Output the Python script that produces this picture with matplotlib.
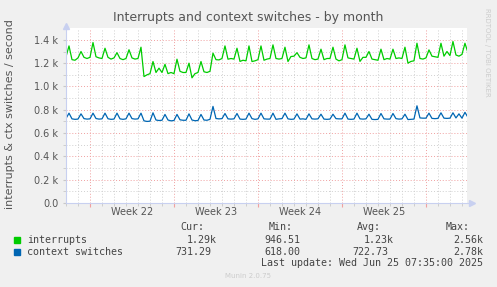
import numpy as np
import matplotlib.pyplot as plt
from matplotlib.patches import Rectangle

# Munin "by month" view, 4 samples per day (6 h), day 0 = left edge of the plot
interrupts = [
    1255, 1348, 1230, 1225,   1245, 1300, 1250, 1240,   1250, 1377, 1255, 1245,
    1240, 1328, 1250, 1235,   1245, 1290, 1240, 1230,   1240, 1315, 1245, 1235,
    1240, 1337, 1085, 1100,   1110, 1214, 1120, 1157,   1120, 1190, 1110, 1120,
    1110, 1234, 1130, 1120,   1120, 1200, 1074, 1110,   1120, 1214, 1126, 1120,
    1130, 1286, 1230, 1228,   1240, 1348, 1234, 1240,   1235, 1328, 1215, 1225,
    1220, 1348, 1214, 1220,   1230, 1348, 1225, 1235,   1240, 1357, 1240, 1235,
    1240, 1337, 1214, 1257,   1260, 1290, 1250, 1240,   1245, 1357, 1240, 1230,
    1235, 1320, 1230, 1240,   1240, 1337, 1235, 1220,   1230, 1357, 1245, 1240,
    1235, 1328, 1215, 1250,   1250, 1300, 1235, 1230,   1225, 1320, 1230, 1240,
    1235, 1320, 1240, 1245,   1240, 1337, 1200, 1215,   1220, 1371, 1240, 1235,
    1245, 1314, 1260, 1255,   1250, 1371, 1260, 1300,   1265, 1386, 1270, 1260,
    1275, 1371, 1290,
]
ctx_switches = [
    725, 771, 722, 718,   720, 765, 724, 720,   722, 771, 725, 720,
    722, 771, 723, 718,   720, 771, 722, 718,   722, 771, 724, 720,
    722, 771, 705, 700,   702, 774, 712, 708,   710, 760, 712, 705,
    708, 760, 714, 710,   710, 765, 712, 706,   708, 760, 712, 710,
    718, 829, 725, 722,   724, 768, 722, 720,   722, 768, 720, 718,
    720, 771, 724, 718,   722, 771, 722, 720,   720, 771, 718, 722,
    724, 771, 722, 718,   720, 765, 720, 722,   718, 765, 722, 720,
    722, 762, 720, 718,   720, 762, 724, 722,   722, 771, 720, 718,
    720, 771, 722, 720,   722, 762, 718, 716,   718, 768, 722, 720,
    720, 768, 724, 720,   722, 762, 716, 718,   720, 834, 730, 728,
    728, 771, 726, 724,   726, 774, 728, 726,   728, 774, 730, 765,
    728, 778, 735,
]
week_labels = ['Week 22', 'Week 23', 'Week 24', 'Week 25']
week_starts = [2, 9, 16, 23, 30]
y_ticks = [0, 200, 400, 600, 800, 1000, 1200, 1400]

legend_names = ['interrupts', 'context switches']
legend_colors = ['#00CC00', '#0066B3']
cur_vals = ['1.29k', '731.29']
min_vals = ['946.51', '618.00']
avg_vals = ['1.23k', '722.73']
max_vals = ['2.56k', '2.78k']

W, H = 497, 287
fig = plt.figure(figsize=(W / 100, H / 100), dpi=100, facecolor='#F0F0F0')
ax = fig.add_axes([66 / W, 84 / H, 401 / W, 174.8 / H], facecolor='white')

t = np.arange(len(interrupts)) * 0.25
ax.plot(t, interrupts, color=legend_colors[0], lw=0.9)
ax.plot(t, ctx_switches, color=legend_colors[1], lw=0.9)

ax.set_xlim(0, 33.42)
ax.set_ylim(0, 1500)

ax.set_yticks(y_ticks)
ax.set_yticklabels(['0.0'] + ['%.1f k' % (v / 1000) for v in y_ticks[1:]])
ax.set_yticks(np.arange(100, 1500, 200), minor=True)
ax.set_xticks(week_starts)
ax.set_xticklabels([])
ax.set_xticks(np.arange(0, 34), minor=True)

ax.grid(which='major', color='#F0A0A0', linestyle=(0, (1, 2)), lw=0.7)
ax.grid(which='minor', color='#D0D0D0', linestyle=(0, (1, 2)), lw=0.7)
ax.tick_params(axis='y', which='both', length=2, color='#C8C8C8', labelsize=7,
               labelcolor='#555555', pad=3.5)
ax.tick_params(axis='x', which='major', length=3, color='#F0A0A0')
ax.tick_params(axis='x', which='minor', length=2, color='#C8C8C8')

for s in ['top', 'right']:
    ax.spines[s].set_visible(False)
for s in ['left', 'bottom']:
    ax.spines[s].set_color('#C8D0F0')
    ax.spines[s].set_linewidth(0.8)
ax.plot([0], [1.01], marker='^', ms=4, color='#C8D0F0', transform=ax.transAxes, clip_on=False)
ax.plot([1.003, 1.012], [0, 0], color='#C8D0F0', lw=0.8, transform=ax.transAxes, clip_on=False)
ax.plot([1.012], [0], marker='>', ms=4, color='#C8D0F0', transform=ax.transAxes, clip_on=False)

for i, lab in enumerate(week_labels):
    ax.text((week_starts[i] + week_starts[i + 1]) / 2, -0.052, lab, ha='center', va='center',
            fontsize=7, color='#555555', transform=ax.get_xaxis_transform())

def fx(x):
    return x / W

def fy(y):
    return 1 - y / H

fig.text(fx(248), fy(18), 'Interrupts and context switches - by month', ha='center', va='center',
         fontsize=9, color='#555555')
fig.text(fx(10), fy(114), 'interrupts & ctx switches / second', rotation=90, ha='center',
         va='center', fontsize=8, color='#555555')
fig.text(fx(487), fy(52), 'RRDTOOL / TOBI OETIKER', rotation=270, ha='center', va='center',
         fontsize=5, color='#CCCCCC')

mono = dict(family='DejaVu Sans Mono', fontsize=7.2, color='#444444', va='center')
for xe, lab in zip([204, 293, 381, 470], ['Cur:', 'Min:', 'Avg:', 'Max:']):
    fig.text(fx(xe), fy(227), lab, ha='right', **mono)
rows_y = [240, 252]
for i in range(2):
    fig.patches.append(Rectangle((fx(14), fy(rows_y[i] + 3)), 6 / W, 6 / H,
                                 transform=fig.transFigure, color=legend_colors[i]))
    fig.text(fx(27), fy(rows_y[i]), legend_names[i], ha='left', **mono)
    fig.text(fx(217 if cur_vals[i].endswith('k') else 211), fy(rows_y[i]), cur_vals[i], ha='right', **mono)
    fig.text(fx(300), fy(rows_y[i]), min_vals[i], ha='right', **mono)
    fig.text(fx(394 if avg_vals[i].endswith('k') else 388), fy(rows_y[i]), avg_vals[i], ha='right', **mono)
    fig.text(fx(483), fy(rows_y[i]), max_vals[i], ha='right', **mono)
fig.text(fx(483), fy(263), 'Last update: Wed Jun 25 07:35:00 2025', ha='right', **mono)
fig.text(fx(248), fy(276), 'Munin 2.0.75', ha='center', va='center', fontsize=5, color='#CCCCCC')

fig.savefig('out.png', dpi=100, facecolor=fig.get_facecolor())
